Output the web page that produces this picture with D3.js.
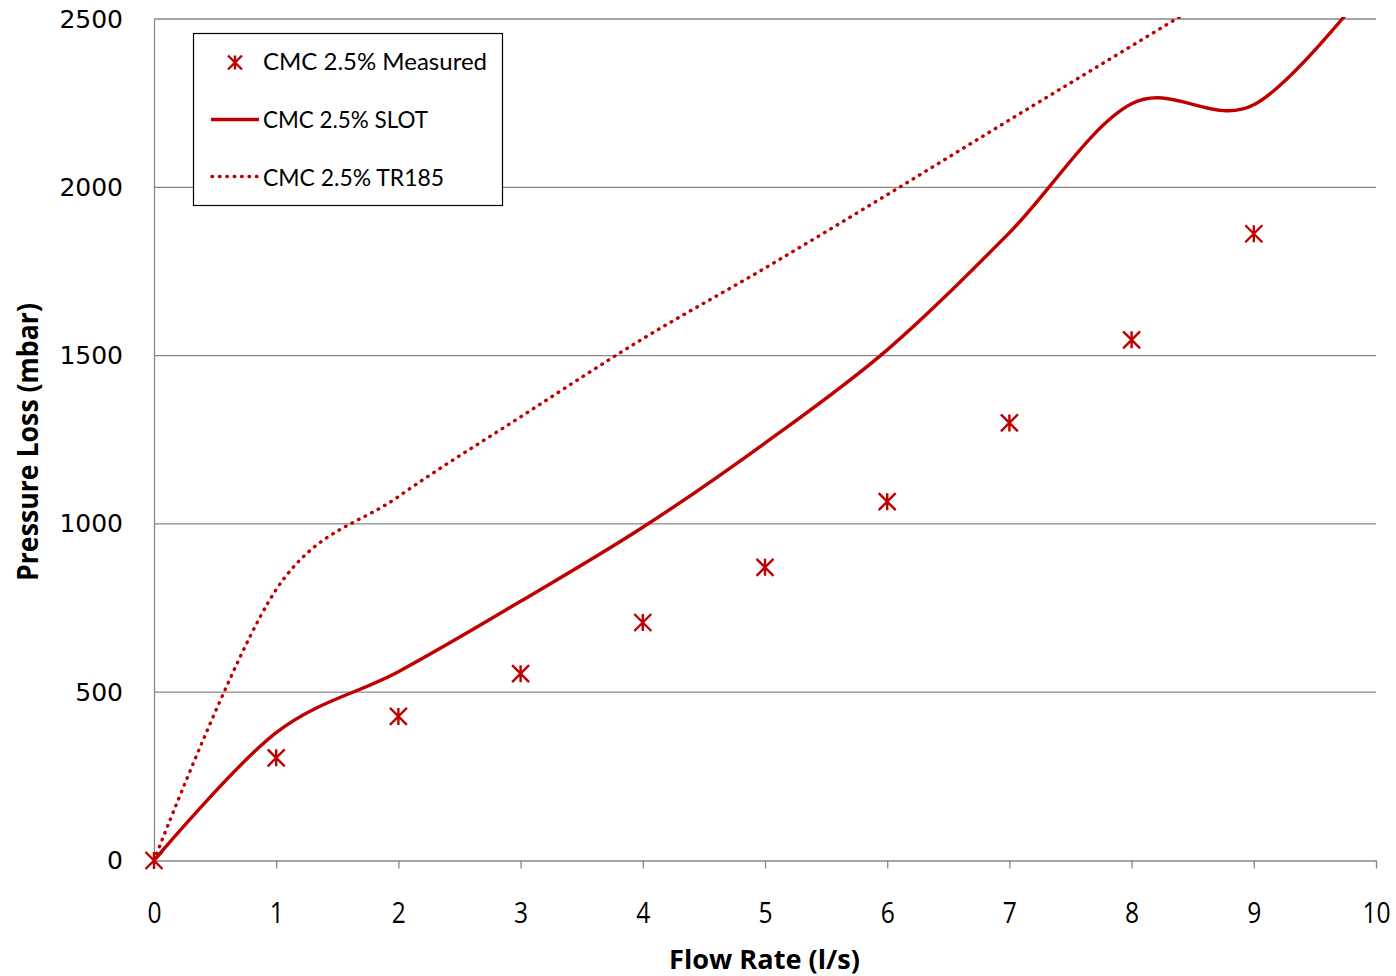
<!DOCTYPE html>
<html><head><meta charset="utf-8">
<script src="https://cdn.jsdelivr.net/npm/d3@7"></script>
<style>body{margin:0;background:#fff}svg{display:block}</style></head>
<body>
<svg id="c" width="1396" height="976"></svg>
<script>
const flowRates = [0,1,2,3,4,5,6,7,8,9,10];
const measuredFlow = [0,1,2,3,4,5,6,7,8,9];
const measured = [0,305,428,555,707,871,1066,1300,1547,1862];
const slot = [0,380,561,770,990,1240,1517,1865,2248,2245,2625];
const tr185 = [0,805,1081,1318,1550,1760,1978,2200,2420,2640,2860];
const xTicks = [0,1,2,3,4,5,6,7,8,9,10];
const yTicks = [0,500,1000,1500,2000,2500];
const seriesNames = ["CMC 2.5% Measured","CMC 2.5% SLOT","CMC 2.5% TR185"];
const xTitle = "Flow Rate (l/s)";
const yTitle = "Pressure Loss (mbar)";

const red = "#C00000", grid = "#878787";
const L = 154, R = 1376, T = 19, B = 860.5;
const svg = d3.select("#c");
const x = d3.scaleLinear().domain([0,10]).range([L,R]);
const y = d3.scaleLinear().domain([0,2500]).range([B,T]);

// gridlines
svg.append("g").selectAll("line").data(yTicks.filter(d=>d>0)).join("line")
  .attr("x1",L).attr("x2",R).attr("y1",d=>y(d)).attr("y2",d=>y(d))
  .attr("stroke",grid).attr("stroke-width",1.3);

// x axis
const xa = svg.append("g").attr("transform",`translate(0,${B})`)
  .call(d3.axisBottom(x).tickValues(xTicks).tickSize(8).tickSizeOuter(0).tickPadding(33).tickFormat(d3.format("d")));
xa.select(".domain").attr("stroke",grid).attr("stroke-width",1.3);
xa.selectAll(".tick line").attr("stroke",grid).attr("stroke-width",1.3);
xa.selectAll("text").attr("font-family","'Open Sans',sans-serif")
  .attr("font-size",30).attr("fill","#000").attr("transform","scale(0.82,1)");

// y axis
const ya = svg.append("g").attr("transform",`translate(${L},0)`)
  .call(d3.axisLeft(y).tickValues(yTicks).tickSize(0).tickPadding(31).tickFormat(d3.format("d")));
ya.select(".domain").attr("stroke",grid).attr("stroke-width",1.3);
ya.selectAll("text").attr("font-family","'DejaVu Sans',sans-serif")
  .attr("font-size",25).attr("fill","#000");

// titles
svg.append("text").attr("x",764.5).attr("y",969).attr("text-anchor","middle")
  .attr("font-family","'Open Sans',sans-serif").attr("font-weight","bold")
  .attr("font-size",27).attr("textLength",191).attr("lengthAdjust","spacingAndGlyphs").text(xTitle);
svg.append("text").attr("transform","translate(38,442) rotate(-90)").attr("text-anchor","middle")
  .attr("font-family","'Open Sans',sans-serif").attr("font-weight","bold")
  .attr("font-size",28).attr("textLength",278).attr("lengthAdjust","spacingAndGlyphs").text(yTitle);

// clip
svg.append("clipPath").attr("id","clip").append("rect").attr("x",L).attr("y",T-2).attr("width",R-L+2).attr("height",B-T+4);
const plot = svg.append("g").attr("clip-path","url(#clip)");

const line = d3.line().x((d,i)=>x(flowRates[i])).y(d=>y(d)).curve(d3.curveCatmullRom.alpha(0));
plot.append("path").datum(tr185).attr("d",line).attr("fill","none").attr("stroke",red)
  .attr("stroke-width",3.4).attr("stroke-linecap","round").attr("stroke-dasharray","0.6 6.8");
plot.append("path").datum(slot).attr("d",line).attr("fill","none").attr("stroke",red).attr("stroke-width",3.4);

function star(g, cx, cy, s){
  g.append("path").attr("d",`M${cx-s},${cy-s}L${cx+s},${cy+s}M${cx-s},${cy+s}L${cx+s},${cy-s}M${cx},${cy-s}L${cx},${cy+s}`)
   .attr("stroke",red).attr("stroke-width",2.4).attr("fill","none");
}
const mg = svg.append("g");
measured.forEach((v,i)=>star(mg, x(measuredFlow[i]), y(v), 8.5));

// legend
const lg = svg.append("g");
lg.append("rect").attr("x",193.5).attr("y",33.5).attr("width",309).attr("height",172)
  .attr("fill","#fff").attr("stroke","#000").attr("stroke-width",1.2);
star(lg, 235, 62.5, 7);
lg.append("line").attr("x1",211).attr("x2",259).attr("y1",119.5).attr("y2",119.5).attr("stroke",red).attr("stroke-width",3.4);
lg.append("line").attr("x1",212).attr("x2",258).attr("y1",176.5).attr("y2",176.5).attr("stroke",red)
  .attr("stroke-width",3.4).attr("stroke-linecap","round").attr("stroke-dasharray","0.6 6.8");
const legY = [70, 128, 186];
const legW = [224, 165, 181];
seriesNames.forEach((n,i)=>{
  lg.append("text").attr("x",263).attr("y",legY[i]).attr("font-family","Lato,'Open Sans',sans-serif")
    .attr("font-size",24).attr("textLength",legW[i]).attr("lengthAdjust","spacingAndGlyphs").text(n);
});
</script>
</body></html>
